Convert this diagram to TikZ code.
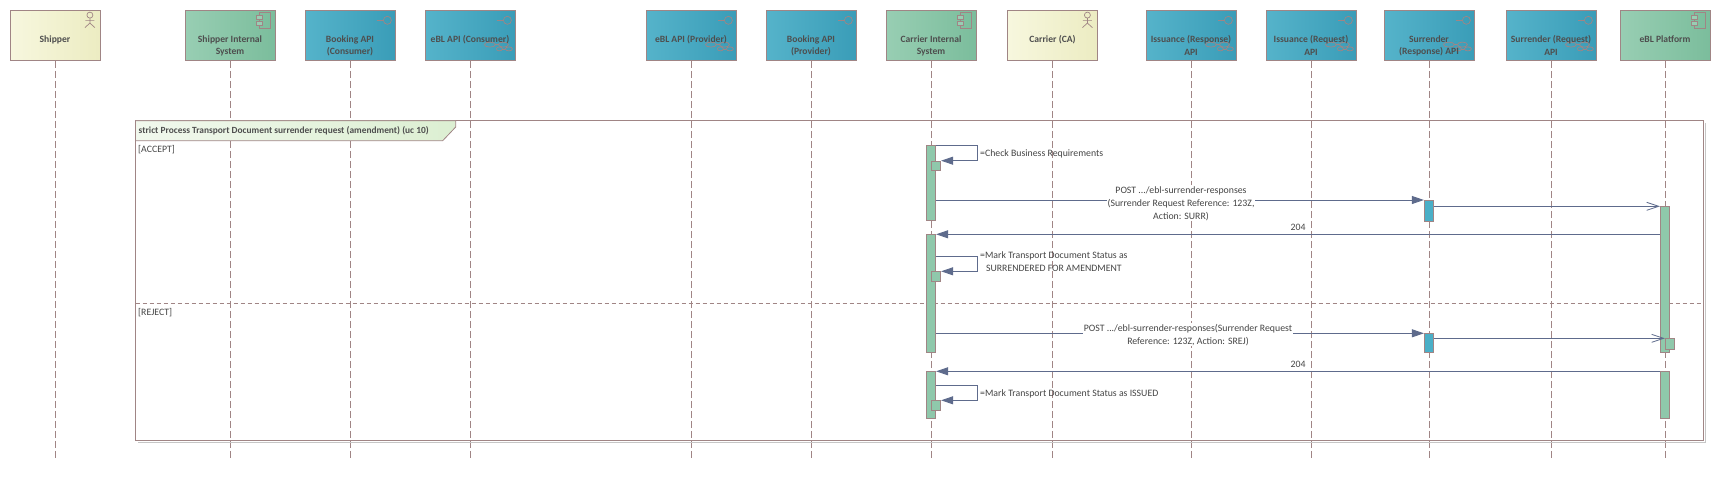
\documentclass[tikz,border=0pt]{standalone}
\usepackage{fontspec}
\setmainfont{Carlito}
\usetikzlibrary{arrows.meta,calc}
\definecolor{bordc}{HTML}{A08585}
\definecolor{actL}{HTML}{F7F7DE}
\definecolor{actR}{HTML}{ECECC2}
\definecolor{compL}{HTML}{98CEB3}
\definecolor{compR}{HTML}{7BBD9C}
\definecolor{ifL}{HTML}{55B3CA}
\definecolor{ifR}{HTML}{3A9DB8}
\definecolor{msgc}{HTML}{5E6B8C}
\definecolor{htxt}{HTML}{4E4E4E}
\definecolor{mtxt}{HTML}{444444}
\definecolor{barGc}{HTML}{8FC8AB}
\definecolor{barBc}{HTML}{4AAFC7}
\definecolor{tabL}{HTML}{F1F8ED}
\definecolor{tabR}{HTML}{DCEFD2}
\newcommand\actoricon[1]{%
  \begin{scope}[shift={(#1.north east)}]
    \draw[icon] (-10.5,5) circle (3);
    \draw[icon] (-10.5,8) -- (-10.5,13) (-15,10.5) -- (-6,10.5)
      (-15.5,17.5) -- (-10.5,13) -- (-5.5,17.5);
  \end{scope}}
\newcommand\compicon[1]{%
  \begin{scope}[shift={(#1.north east)}]
    \draw[icon] (-16,2) rectangle (-4.8,18);
    \draw[icon,fill=compL] (-19.5,5) rectangle (-13,9);
    \draw[icon,fill=compL] (-19.5,11) rectangle (-13,15);
  \end{scope}}
\newcommand\ificon[1]{%
  \begin{scope}[shift={(#1.north east)}]
    \draw[icon] (-8,10.2) circle (4);
    \draw[icon] (-18.3,10.2) -- (-12,10.2);
  \end{scope}}
\newcommand\chainicon[1]{%
  \begin{scope}[shift={(#1.north east)}]
    \draw[icon] (-25.5,34.5) ellipse [x radius=5.5, y radius=2.5];
    \draw[icon] (-12,34.5) ellipse [x radius=5, y radius=2.5];
    \draw[icon] (-16,38.8) ellipse [x radius=3, y radius=2];
    \draw[icon] (-6.5,38.8) ellipse [x radius=3.5, y radius=2];
    \draw[icon] (-20,34.5) -- (-17,34.5) (-13,38.8) -- (-10,38.8);
  \end{scope}}
\begin{document}
\begin{tikzpicture}[x=1pt,y=-1pt,
  hbox/.style={draw=bordc,line width=0.8pt,minimum width=90pt,minimum height=50pt,inner sep=0pt},
  actorbox/.style={hbox,left color=actL,right color=actR},
  compbox/.style={hbox,left color=compL,right color=compR},
  ifbox/.style={hbox,left color=ifL,right color=ifR},
  htext/.style={anchor=north,inner sep=0pt,align=center,font=\fontsize{9.6}{12.7}\selectfont\bfseries,text=htxt},
  lifeline/.style={draw=bordc,line width=0.8pt,dash pattern=on 7pt off 3pt},
  icon/.style={draw=bordc,line width=0.7pt},
  gbar/.style={draw=bordc,line width=0.8pt,fill=barGc,minimum width=9.4pt,inner sep=0pt,anchor=north},
  bbar/.style={draw=bordc,line width=0.8pt,fill=barBc,minimum width=9.4pt,inner sep=0pt,anchor=north},
  msg/.style={draw=msgc,line width=0.9pt,-{Triangle[length=12pt,width=8pt]}},
  amsg/.style={draw=msgc,line width=0.9pt,-{Straight Barb[length=12pt,width=8pt,line width=0.8pt]}},
  mtext/.style={font=\fontsize{9.8}{13}\selectfont,text=mtxt,inner sep=1pt,align=center},
  ftext/.style={font=\fontsize{9.8}{13}\selectfont,text=mtxt,inner sep=0pt,anchor=west}
]
\useasboundingbox (0,0) rectangle (1725,480);
% header boxes
\node[actorbox] (shipper) at (55,35.5) {};
\node[compbox]  (sis)     at (230,35.5) {};
\node[ifbox]    (bkc)     at (350,35.5) {};
\node[ifbox]    (eblc)    at (470,35.5) {};
\node[ifbox]    (eblp)    at (691,35.5) {};
\node[ifbox]    (bkp)     at (811,35.5) {};
\node[compbox]  (cis)     at (931,35.5) {};
\node[actorbox] (ca)      at (1052.5,35.5) {};
\node[ifbox]    (isr)     at (1191,35.5) {};
\node[ifbox]    (isq)     at (1311,35.5) {};
\node[ifbox]    (srr)     at (1429,35.5) {};
\node[ifbox]    (srq)     at (1551,35.5) {};
\node[compbox]  (ebl)     at (1665,35.5) {};
% header icons
\actoricon{shipper}\actoricon{ca}
\compicon{sis}\compicon{cis}\compicon{ebl}
\ificon{bkc}\ificon{eblc}\ificon{eblp}\ificon{bkp}\ificon{isr}\ificon{isq}\ificon{srr}\ificon{srq}
\chainicon{eblc}\chainicon{eblp}\chainicon{isr}\chainicon{isq}\chainicon{srr}\chainicon{srq}
% header texts
\node[htext] (shipperT) at ($(shipper.north)+(0,25)$) {Shipper};
\node[htext] (sisT) at ($(sis.north)+(0,25)$) {Shipper Internal\\System};
\node[htext] (bkcT) at ($(bkc.north)+(0,25)$) {Booking API\\(Consumer)};
\node[htext] (eblcT) at ($(eblc.north)+(0,25)$) {eBL API (Consumer)};
\node[htext] (eblpT) at ($(eblp.north)+(0,25)$) {eBL API (Provider)};
\node[htext] (bkpT) at ($(bkp.north)+(0,25)$) {Booking API\\(Provider)};
\node[htext] (cisT) at ($(cis.north)+(0,25)$) {Carrier Internal\\System};
\node[htext] (caT) at ($(ca.north)+(0,25)$) {Carrier (CA)};
\node[htext] (isrT) at ($(isr.north)+(0,25)$) {Issuance (Response)\\API};
\node[htext] (isqT) at ($(isq.north)+(0,25)$) {Issuance (Request)\\API};
\node[htext] (srrT) at ($(srr.north)+(0,25)$) {Surrender\\(Response) API};
\node[htext] (srqT) at ($(srq.north)+(0,25)$) {Surrender (Request)\\API};
\node[htext] (eblT) at ($(ebl.north)+(0,25)$) {eBL Platform};
% lifelines
\foreach \n in {shipper,sis,bkc,eblc,eblp,bkp,cis,ca,isr,isq,srr,srq,ebl}{
  \coordinate (\n E) at ($(\n.south)+(0,400)$);
  \draw[lifeline] (\n.south) -- (\n E);
}
% combined fragment frame
\draw[gray!45,line width=1pt] (1705,122.5) -- (1705,442.5) -- (137.5,442.5);
\draw[bordc,line width=0.9pt] (135.5,120.7) rectangle (1703,440.7);
\draw[bordc,line width=0.8pt,left color=tabL,right color=tabR]
  (135.5,120.7) -- (455.7,120.7) -- (455.7,127) -- (442.7,140.7) -- (135.5,140.7) -- cycle;
\draw[bordc,line width=0.8pt,dash pattern=on 4pt off 3pt] (135.5,303) -- (1703,303);
\node[font=\fontsize{9.4}{12}\selectfont\bfseries,text=htxt,inner sep=0pt,anchor=west] (fragT) at (138.5,131) {strict Process Transport Document surrender request (amendment) (uc 10)};
\node[ftext] (accT) at (138,150) {[ACCEPT]};
\node[ftext] (rejT) at (138,313) {[REJECT]};
% activation bars
\node[gbar,minimum height=74.7pt] (cis1) at (931,145.3) {};
\node[gbar,minimum height=9.6pt] (cisn1) at (936,160.7) {};
\node[gbar,minimum height=117.7pt] (cis2) at (931,234.3) {};
\node[gbar,minimum height=9.7pt] (cisn2) at (936,271.3) {};
\node[gbar,minimum height=46.7pt] (cis3) at (931,371.3) {};
\node[gbar,minimum height=9.7pt] (cisn3) at (936,400.3) {};
\node[bbar,minimum height=20.5pt] (sr1) at (1429,200) {};
\node[bbar,minimum height=19pt] (sr2) at (1429,333.3) {};
\node[gbar,minimum height=146pt] (ebl1) at (1665,206.3) {};
\node[gbar,minimum height=11pt] (ebln) at (1670,338.3) {};
\node[gbar,minimum height=47pt] (ebl2) at (1665,371.3) {};
% messages
\draw[msg] (cis1.north east) -- ++(41,0) |- (cisn1.north east);
\draw[msg] (cis1.east |- sr1.north) -- (sr1.north west);
\draw[amsg] (sr1.east |- ebl1.north) -- (ebl1.north west);
\draw[msg] (ebl1.west |- cis2.north) -- (cis2.north east);
\draw[msg] ($(cis2.north east)+(0,22)$) -- ++(41,0) |- (cisn2.north east);
\draw[msg] (cis2.east |- sr2.north) -- (sr2.north west);
\draw[amsg] (sr2.east |- ebln.north) -- (ebln.north west);
\draw[msg] (ebl2.north west) -- (cis3.north east);
\draw[msg] ($(cis3.north east)+(0,14.4)$) -- ++(41,0) |- (cisn3.north east);
% message labels
\node[ftext] (m1T) at (980,154) {=Check Business Requirements};
\node[mtext,fill=white] (m2T) at (1181,203.3) {POST .../ebl-surrender-responses\\(Surrender Request Reference: 123Z,\\Action: SURR)};
\node[mtext] (m3T) at (1298,227) {204};
\node[mtext,anchor=west,inner sep=0pt] (m4T) at (980,261.5) {=Mark Transport Document Status as\\SURRENDERED FOR AMENDMENT};
\node[mtext,fill=white] (m5T) at (1188,334.7) {POST .../ebl-surrender-responses(Surrender Request\\Reference: 123Z, Action: SREJ)};
\node[mtext] (m6T) at (1298,364.3) {204};
\node[ftext] (m7T) at (980,394) {=Mark Transport Document Status as ISSUED};
\end{tikzpicture}
\end{document}
